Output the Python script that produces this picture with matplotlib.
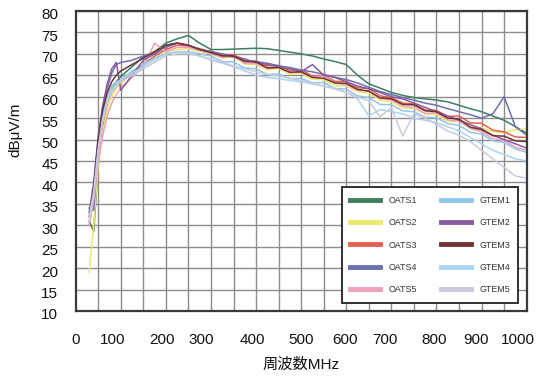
import numpy as np
import matplotlib
matplotlib.use("Agg")
import matplotlib.pyplot as plt
import matplotlib.transforms as mtransforms

plt.rcParams['font.family'] = ['Liberation Sans', 'Noto Sans CJK JP', 'DejaVu Sans']

# ---------------- data ----------------
freq = [30, 40, 50, 60, 70, 80, 90, 100, 125, 150, 175, 200, 225, 250, 275, 300,
        325, 350, 375, 400, 425, 450, 475, 500, 525, 550, 575, 600, 625, 650, 675,
        700, 725, 750, 775, 800, 825, 850, 875, 900, 925, 950, 975, 1000]

oats1 = [31, 28.5, 44, 53, 58.5, 61.5, 63.5, 64.7, 67, 69.3, 70.5, 72.5, 73.5, 74.3, 72.5, 71,
         71, 71.1, 71.2, 71.3, 71.2, 70.8, 70.4, 70, 69.5, 68.8, 68.2, 67.5, 65, 63, 62,
         61, 60.3, 59.8, 59.5, 59.2, 58.8, 58, 57.2, 56.5, 55.5, 54.5, 53, 51.5]
oats2 = [19, 30, 44, 52, 57, 60, 62, 63, 65.5, 67.5, 69, 70.5, 71, 71.2, 70.5, 70,
         69, 69.3, 67.6, 67.5, 66.3, 66.6, 65.2, 65.4, 64.1, 64, 62.6, 62.5, 61.2, 60.8, 59.2,
         58.8, 57.4, 57.3, 55.9, 55.8, 54.2, 54.3, 52.7, 52.8, 51.8, 51.6, 52.3, 52.5]
oats3 = [30, 37, 47, 54, 58.5, 61, 62.5, 63.5, 65.5, 67.5, 69.5, 71, 72, 71.8, 71.2, 70.5,
         69.6, 69.8, 68.4, 68.3, 67.2, 67.3, 66.1, 66.3, 64.8, 64.9, 63.6, 63.5, 62.1, 61.9, 60.2,
         59.8, 58.5, 58.3, 56.9, 56.8, 55.4, 55.5, 53.9, 53.8, 52.2, 51.8, 50.6, 50.5]
oats4 = [34, 33.5, 49, 57, 62, 65.5, 67.5, 68, 68.5, 69.5, 70, 71.5, 72.5, 72, 71, 70.5,
         69.8, 69.2, 68.5, 68.2, 67.8, 67.2, 66.8, 66.2, 65.8, 65.2, 64.5, 64, 63.2, 62.2, 61.2,
         60.5, 59.8, 59.2, 58.5, 58, 57.2, 56.5, 55.8, 55, 56, 60, 53, 51]
oats5 = [30, 36, 45, 51, 55.5, 58.5, 60.5, 62, 64.5, 67, 72.5, 70.5, 71.5, 71.5, 70.8, 70,
         69.2, 69.4, 67.8, 67.7, 66.6, 66.9, 65.6, 65.8, 64.6, 64.8, 63.2, 62.8, 61.5, 61.3, 59.6,
         59.3, 57.8, 57.5, 56.1, 56.2, 54.6, 54.3, 52.6, 51.8, 50.2, 49.8, 48.2, 47.5]
gtem1 = [33, 39, 50, 56, 60, 62.5, 63.5, 64, 66, 67.5, 69, 70, 70.5, 70.5, 70, 69.5,
         68.2, 68.1, 66.7, 66.5, 65.2, 65.3, 64.2, 64.3, 63.2, 63.3, 61.9, 61.8, 60.2, 59.8, 58.2,
         58.1, 56.7, 56.5, 55.2, 55.1, 53.7, 53.3, 51.7, 51.3, 49.7, 49.3, 47.8, 47]
gtem2 = [33, 40, 51, 58, 63, 66.5, 68, 61.5, 65, 68.5, 70, 72, 72.5, 72, 71, 70.5,
         70, 69.5, 68.8, 68, 67.5, 67, 66.5, 65.8, 67.5, 65, 64.5, 63.5, 62.5, 61.8, 61,
         60, 59.5, 58.5, 57.5, 56.5, 55.5, 54.5, 53.5, 52.5, 51, 50, 49, 48]
gtem3 = [32, 39, 50, 57, 61, 63.5, 65, 66, 67.5, 69, 70.5, 72, 72.5, 72, 71, 70.3,
         69.5, 69.5, 68.2, 68.1, 66.7, 66.8, 65.7, 65.8, 64.5, 64.3, 63.2, 63.1, 61.7, 61.3, 59.7,
         59.5, 58.2, 58.1, 56.7, 56.5, 55, 54.8, 52.9, 52.3, 50.9, 50.8, 49.7, 49.5]
gtem4 = [32, 38, 48, 55, 59, 61.5, 63, 64, 65.5, 67, 68.5, 70, 70.5, 70.3, 69.5, 68.5,
         67.8, 67, 66, 65, 64.5, 64.2, 63.8, 63.5, 63, 62.5, 62, 61, 59.5, 55.5, 57,
         56.5, 56, 55, 54.5, 54, 53, 52, 50.5, 49, 47.5, 46.5, 45.5, 45]
gtem5 = [31, 37, 47, 54, 58.5, 61, 62.5, 63.5, 65, 66.5, 68, 69.5, 70, 70, 69.5, 68.8,
         68, 67.2, 66.5, 65.8, 65.2, 64.8, 64.3, 63.8, 63, 62.5, 61.8, 61, 60, 59, 55.3,
         57.5, 50.8, 56, 55, 53.5, 52, 51, 49.5, 47.5, 45.5, 43.5, 41.5, 41]

series_names = ['OATS1', 'OATS2', 'OATS3', 'OATS4', 'OATS5',
                'GTEM1', 'GTEM2', 'GTEM3', 'GTEM4', 'GTEM5']
series_values = [oats1, oats2, oats3, oats4, oats5, gtem1, gtem2, gtem3, gtem4, gtem5]

xtick_labels = ['0', '100', '200', '300', '400', '500', '600', '700', '800', '900', '1000']
ytick_values = list(range(10, 81, 5))

# ---------------- style ----------------
colors = ['#3d7f5f', '#ebe96c', '#e4604e', '#6e6fae', '#f2a0b8',
          '#93c6ea', '#8a5b9a', '#6e3434', '#a9d4f3', '#c9cbdc']
# label positions as drawn in the reference (irregular spacing)
xtick_pos = [0, 82.7, 191.4, 279.4, 391.6, 498.9, 597, 685.8, 794.5, 887.6, 979.6]

fig = plt.figure(figsize=(5.48, 3.76), dpi=100)
ax = fig.add_axes([0.1381, 0.1729, 0.8230, 0.7979])

for name, vals, c in zip(series_names, series_values, colors):
    ax.plot(freq, vals, color=c, lw=1.1, label=name, solid_joinstyle='round')

ax.set_xlim(0, 1000)
ax.set_ylim(10, 80)

ax.set_xticks(np.arange(0, 1001, 50), minor=True)
ax.set_xticks(xtick_pos)
ax.set_xticklabels(xtick_labels)
ax.set_yticks(ytick_values)
ax.set_yticklabels([str(v) for v in ytick_values])

ax.grid(False)
ax.grid(True, which='minor', axis='x', color='#8c8c8c', lw=1.0)
ax.grid(True, which='major', axis='y', color='#8c8c8c', lw=1.0)
ax.set_axisbelow(True)

ax.tick_params(axis='both', which='both', length=0, labelsize=11, colors='#111111')
ax.tick_params(axis='y', pad=12.5)
ax.tick_params(axis='x', pad=16)

offset = mtransforms.ScaledTranslation(0, -3 / 100, fig.dpi_scale_trans)
for lab in ax.get_yticklabels():
    lab.set_transform(lab.get_transform() + offset)

for s in ax.spines.values():
    s.set_color('#3a3a3a')
    s.set_linewidth(1.6)

ax.set_ylabel('dBμV/m', fontsize=11, color='#111111')
ax.yaxis.set_label_coords(-0.119, 0.603)
ax.set_xlabel('周波数MHz', fontsize=11, color='#111111')
ax.xaxis.set_label_coords(0.5, -0.155)

leg = ax.legend(ncol=2, loc='lower right', bbox_to_anchor=(0.9814, 0.0277),
                borderaxespad=0, fontsize=6.4, handlelength=3.4, handletextpad=0.9,
                columnspacing=2.7, labelspacing=1.5, borderpad=0.95,
                fancybox=False, framealpha=1, edgecolor='#222222')
leg.get_frame().set_linewidth(1.3)
for h in leg.get_lines():
    h.set_linewidth(3.5)
for t in leg.get_texts():
    t.set_color('#333333')

fig.savefig('out.png', dpi=100)
